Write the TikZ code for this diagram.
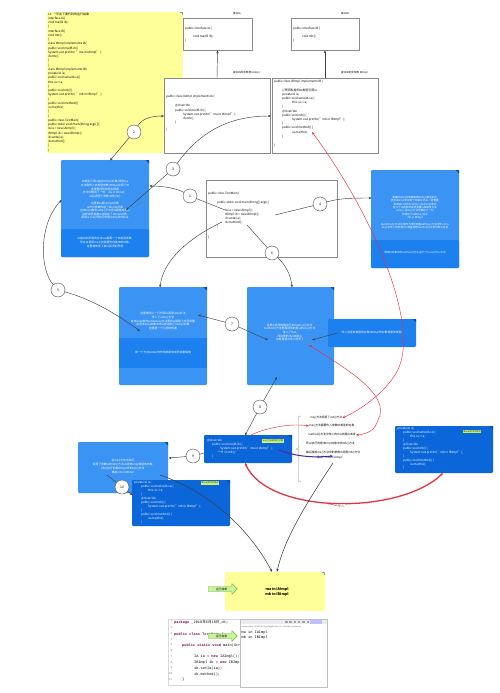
\documentclass[tikz,border=0pt]{standalone}
\usepackage{fontspec}
\setmainfont{Noto Sans CJK SC}
\newfontfamily\codemono{Liberation Mono}
\usetikzlibrary{arrows.meta,shapes.arrows}
\definecolor{noteyellow}{HTML}{FFFF99}
\definecolor{frameink}{HTML}{8A8A8A}
\definecolor{lblue}{HTML}{3B93F3}
\definecolor{mblue}{HTML}{1C80EE}
\definecolor{dblue}{HTML}{0B66D9}
\definecolor{earblue}{HTML}{0A4FA8}
\definecolor{tipgreen}{HTML}{C8F56A}
\definecolor{linered}{HTML}{E5333F}
\definecolor{linepurple}{HTML}{4A2A9E}
\definecolor{arrowgreen}{HTML}{C9F29B}
\definecolor{arrowedge}{HTML}{6DB33F}
\definecolor{kwpurple}{HTML}{7F0055}
\begin{document}
\begin{tikzpicture}[x=1pt,y=-1pt,>={Stealth[length=3pt,width=2.4pt]},line cap=round,line join=round,
  code/.style={anchor=north west,inner sep=0pt,align=left,font=\fontsize{3}{4.2}\selectfont},
  codeline/.style={anchor=west,inner sep=0pt,font=\fontsize{3}{4.2}\selectfont},
  caption/.style={inner sep=0pt,font=\fontsize{2.6}{3}\selectfont},
  memo/.style={inner sep=0pt,align=center,text=white,font=\fontsize{2.8}{3.6}\selectfont},
  remark/.style={anchor=west,inner sep=0pt,font=\fontsize{2.8}{3.4}\selectfont},
  tag/.style={fill=tipgreen,inner sep=0.6pt,font=\fontsize{2.2}{2.4}\selectfont,text=black!80},
  num/.style={circle,draw=black!70,fill=white,line width=0.4pt,minimum size=14pt,inner sep=0pt,font=\fontsize{3.4}{3.4}\selectfont},
  frame/.style={rectangle,draw=frameink,line width=0.7pt,fill=white,inner sep=0pt},
  card/.style={rectangle,rounded corners=1.2pt,inner sep=0pt,fill=lblue},
  link/.style={black!75,line width=0.45pt},
  thinred/.style={linered,line width=0.45pt},
  mono/.style={anchor=north west,inner sep=0pt,align=left,font=\codemono\fontsize{3.6}{5.73}\selectfont},
  outarrow/.style={shape=single arrow,fill=arrowgreen,draw=arrowedge,line width=0.4pt,single arrow head extend=3pt,minimum height=29pt,inner sep=1pt,font=\fontsize{2.8}{3}\selectfont}]
\path[use as bounding box] (0,0) rectangle (500,693);
\fill[white] (0,0) rectangle (500,693);
% 题目
\node[fill=noteyellow,inner sep=0pt,minimum width=136pt,minimum height=141pt] (tasknote) at (115,82.5) {};
\draw[black!40,line width=0.3pt] (180,12.6) -- (182.4,12.6) -- (182.4,15);
\node[code,font=\fontsize{3}{4.25}\selectfont] (task) at (48,12.4) {13. **写出下面代码的运行结果\\interface IA\{\\void ma(IB ib);\\\}\\interface IB\{\\void mb();\\\}\\class IAImpl implements IA\{\\public void ma(IB ib)\{\\System.out.println( "ma in IAImpl" );\\ib.mb();\\\}\\\}\\class IBImpl implements IB\{\\private IA ia;\\public void setIa(IA ia)\{\\this.ia = ia;\\\}\\public void mb()\{\\System.out.println( "mb in IBImpl" );\\\}\\public void method()\{\\ia.ma(this);\\\}\\\}\\public class TestMain\{\\public static void main(String args[])\{\\IA ia = new IAImpl();\\IBImpl ib = new IBImpl();\\ib.setIa(ia);\\ib.method();\\\}\\\}};
% 接口与实现类
\node[frame,minimum width=69pt,minimum height=32pt] (ia) at (217.5,34) {};
\node[frame,minimum width=68pt,minimum height=32pt] (ib) at (325,34) {};
\node[caption] (ialabel) at (237,14) {接口IA};
\node[caption] (iblabel) at (345,14) {接口IB};
\node[code] (iatxt) at (185,26.5) {public interface IA \{\\ \\\hspace*{8pt}void ma(IB ib);\\\}};
\node[code] (ibtxt) at (293,26.5) {public interface IB \{\\ \\\hspace*{9pt}void mb();\\\}};
\node[frame,minimum width=106pt,minimum height=75pt] (iaimpl) at (217,115.5) {};
\node[frame,minimum width=106pt,minimum height=75pt] (ibimpl) at (325,115.5) {};
\draw[link,->] (iaimpl.north) -- (ia.south);
\draw[link,->] (ibimpl.north) -- (ib.south);
\node[caption,anchor=west] (iaimpllabel) at (233,73) {接口IA的实现类 IAImpl};
\node[caption,anchor=west] (ibimpllabel) at (341,73) {接口IB的实现类 IBImpl};
\node[codeline] (iahead) at (166,97) {public class IAImpl implements IA \{};
\node[code] (iabody) at (175,104.3) {@Override\\public void ma(IB ib) \{\\\hspace*{8pt}System.out.println("ma in IAImpl");\\\hspace*{8pt}ib.mb();\\\}};
\node[codeline] (iaend) at (166,130) {\}};
\node[codeline] (ibhead) at (274,82) {public class IBImpl implements IB \{};
\node[code] (ibbody) at (282,88.3) {//声明私有的IA类型引用ia\\private IA ia;\\public void setIa(IA ia) \{\\\hspace*{10pt}this.ia = ia;\\\}\\@Override\\public void mb() \{\\\hspace*{10pt}System.out.println("mb in IBImpl");\\\}\\public void method() \{\\\hspace*{10pt}ia.ma(this);\\\}};
\node[codeline] (ibend) at (274,146) {\}};
% 测试类
\node[frame,minimum width=131pt,minimum height=77pt] (testmain) at (271.5,218.5) {};
\node[codeline] (tmhead) at (208,193.3) {public class TestMain \{};
\node[code,font=\fontsize{3}{4}\selectfont] (tmbody) at (217,201) {public static void main(String[] args) \{\\ \\\hspace*{8pt}IA ia = new IAImpl();\\\hspace*{8pt}IBImpl ib = new IBImpl();\\\hspace*{8pt}ib.setIa(ia);\\\hspace*{8pt}ib.method();\\\}};
\node[codeline] (tmend) at (208,237.7) {\}};
% 说明卡片
\node[card,minimum width=88pt,minimum height=97pt] (boxa) at (105,208.5) {};
\fill[mblue,rounded corners=1.2pt] (61,229) rectangle (149,257);
\fill[earblue] (145.5,160) -- (149,160) -- (149,163.5) -- cycle;
\node[memo] (atext) at (105,200) {IA类型引用ia指向IAImpl对象,调用ma\\方法需传入IB类型参数,IBImpl实现了IB\\这里要调用的是实现类\\方法中输出了一句"ma in IAImpl"\\并且调用了参数ib的mb()\\ \\这里的ia是IAImpl对象\\ia作为参数传给了IBImpl对象\\在IBImpl类中setIa()方法把ia赋给成员ia\\这样成员变量ia也指向了IAImpl对象,\\调用ia.ma()时执行的是IAImpl中的ma};
\node[memo] (aband) at (105,242.5) {IA接口中声明的方法ma需要一个IB类型参数,\\所以在调用ma之前需要先创建IB的对象,\\这里就体现了接口回调的思想};
\node[card,minimum width=88pt,minimum height=98pt] (boxb) at (163,336) {};
\fill[mblue] (119,338) rectangle (207,368);
\fill[earblue] (203.5,287) -- (207,287) -- (207,290.5) -- cycle;
\node[memo,font=\fontsize{2.8}{3.9}\selectfont] (btext) at (163,321) {这里使用上一行代码ib调用setIa方法\\传入了setIa()方法\\在IBImpl类的setIa(IA ia)方法里把ia赋给了成员变量\\此时IBImpl对象中的ia就指向了IAImpl对象\\这里是一个引用的传递};
\node[memo] (bband) at (163,353) {第一个方法setIa()的作用就是给成员变量赋值};
\node[card,minimum width=87pt,minimum height=98pt] (boxc) at (290.5,336) {};
\fill[earblue] (330.5,287) -- (334,287) -- (334,290.5) -- cycle;
\node[memo] (ctext) at (290,332.5) {这里ib调用的是自己的method()方法,\\method()方法里面调用的是ia的ma()方法,\\传入了this,\\而这里的this就是ib,\\也就是将ib传入进去了};
\node[card,fill=mblue,minimum width=88pt,minimum height=28pt] (boxd) at (372,333) {};
\fill[earblue] (412.5,319) -- (416,319) -- (416,322.5) -- cycle;
\node[memo] (dtext) at (372,333) {传入的是IB类型的对象(IBImpl的对象就是IB类型)};
\node[card,minimum width=88pt,minimum height=98pt] (boxe) at (415,219) {};
\fill[mblue,rounded corners=1.2pt] (371,240) rectangle (459,268);
\fill[earblue] (455.5,170) -- (459,170) -- (459,173.5) -- cycle;
\node[memo,font=\fontsize{2.6}{3.4}\selectfont] (etext) at (415,212.5) {新建IBImpl对象赋值给IBImpl类型的ib,\\因为IBImpl类实现了IB接口,所以一定要重\\写IB接口中的方法mb(),在IBImpl类中\\定义了IA类型的成员变量ia和成员方法\\setIa(),在mb()方法中输出了一句\\并调用了ia的ma()方法\\"mb in IBImpl"\\[3pt]在method()方法中调用了成员变量ia的ma()方法并传入this\\ma()中传入的参数this就是调用method方法的对象ib本身};
\node[memo,font=\fontsize{2.6}{3.4}\selectfont] (eband) at (415,253) {调用ib对象中的method()方法,执行了ia.ma(this)方法};
% 执行过程
\node[card,fill=dblue,minimum width=88pt,minimum height=28pt] (boxf) at (248,449) {};
\fill[earblue] (288.5,435) -- (292,435) -- (292,438.5) -- cycle;
\node[code,text=white,font=\fontsize{3}{4}\selectfont] (ftext) at (207,439.3) {@Override\\\hspace*{5pt}public void ma(IB ib) \{\\\hspace*{13pt}System.out.println("ma in IAImpl");\\\hspace*{10pt}$\rightarrow$ ib.mb();\\\hspace*{5pt}\}};
\node[tag] (ftag) at (273,441) {ma()方法的执行过程};
\node[card,minimum width=90pt,minimum height=51pt] (boxg) at (123,467.5) {};
\fill[earblue] (164.5,442) -- (168,442) -- (168,445.5) -- cycle;
\node[memo,font=\fontsize{2.8}{4}\selectfont] (gtext) at (123,467) {在ma()方法中执行\\调用了参数ib的mb()方法,ib是IBImpl类型的对象,\\所以执行的是IBImpl中的mb()方法\\输出mb in IBImpl};
\node[card,fill=dblue,minimum width=98pt,minimum height=46pt] (boxh) at (181,503) {};
\fill[earblue] (226.5,480) -- (230,480) -- (230,483.5) -- cycle;
\node[code,text=white,font=\fontsize{3}{4}\selectfont] (htext) at (134,480.8) {private IA ia;\\\hspace*{7pt}public void setIa(IA ia) \{\\\hspace*{14pt}this.ia = ia;\\\hspace*{7pt}\}\\\hspace*{7pt}@Override\\\hspace*{7pt}public void mb() \{\\\hspace*{14pt}System.out.println("mb in IBImpl");\\\hspace*{7pt}\}\\\hspace*{7pt}public void method() \{\\\hspace*{14pt}ia.ma(this);\\\hspace*{7pt}\}};
\node[tag] (htag) at (210,483) {IBImpl类中的成员};
\node[card,fill=dblue,minimum width=98pt,minimum height=47pt] (boxi) at (444,449.5) {};
\fill[earblue] (489.5,426) -- (493,426) -- (493,429.5) -- cycle;
\node[code,text=white,font=\fontsize{3}{3.9}\selectfont] (itext) at (397,427.4) {private IA ia;\\\hspace*{6pt}public void setIa(IA ia) \{\\\hspace*{13pt}this.ia = ia;\\\hspace*{6pt}\}\\\hspace*{6pt}@Override\\\hspace*{6pt}public void mb() \{\\\hspace*{13pt}System.out.println("mb in IBImpl");\\\hspace*{6pt}\}\\\hspace*{6pt}public void method() \{\\\hspace*{13pt}ia.ma(this);\\\hspace*{6pt}\}};
\node[tag] (itag) at (472,431.5) {IBImpl类中的成员};
% 右侧说明
\draw[black!45,line width=0.35pt] (301,416) .. controls (298.5,416) .. (298.5,419) -- (298.5,446.5) .. controls (298.5,449) .. (295.5,449) .. controls (298.5,449) .. (298.5,451.5) -- (298.5,479) .. controls (298.5,482) .. (301,482);
\node[remark] (rem1) at (310,418) {ma()方法调用了mb()方法};
\node[remark] (rem2) at (309,426) {ma()方法需要传入参数IB类型的对象};
\node[remark] (rem3) at (308,435) {method()方法中传入的this就是ib本身};
\node[remark] (rem4) at (306,444) {所以执行的是IBImpl对象中的mb()方法};
\node[remark] (rem5) at (306,453) {最后使用ma()方法中的参数ib调用mb()方法};
\node[remark] (rem6) at (317,457.5) {输出"ma in IAImpl"};
% 编号
\node[num] (c1) at (190,196) {1};
\node[num] (c2) at (134,132) {2};
\node[num] (c3) at (173,169) {3};
\node[num] (c4) at (320,204) {4};
\node[num] (c5) at (58,290) {5};
\node[num] (c6) at (272,253) {6};
\node[num] (c7) at (232,324) {7};
\node[num] (c8) at (260,407) {8};
\node[num] (c9) at (193,456) {9};
\node[num] (c10) at (122,487) {10};
% 连线端点
\coordinate (maline) at (164,116);
\coordinate (mbline) at (271,116);
\coordinate (newia) at (225,210);
\coordinate (newib) at (275,215);
\coordinate (setia) at (222,222);
\coordinate (callm) at (247,225);
\coordinate (thisline) at (312,132);
\coordinate (atxt) at (126,210);
\coordinate (aleft) at (61.5,200);
\coordinate (atop) at (110,160.5);
\coordinate (aright) at (149.5,186);
\coordinate (btop) at (160,287.5);
\coordinate (btxt) at (198,315);
\coordinate (bleft) at (140,331);
\coordinate (ctop) at (292,287.5);
\coordinate (ctxt) at (268,340);
\coordinate (cthis) at (312,340);
\coordinate (cred) at (309,345);
\coordinate (cbot) at (277,377);
\coordinate (dtxt) at (337,333);
\coordinate (eleft) at (371.5,198);
\coordinate (ftop) at (245,435.5);
\coordinate (fleft) at (204,453);
\coordinate (fma) at (250,435.5);
\coordinate (fprint) at (279,450);
\coordinate (fbot) at (245,463);
\coordinate (gright) at (168.5,458);
\coordinate (gtxt) at (107,475);
\coordinate (gout) at (160,475);
\coordinate (hleft) at (132.5,495);
\coordinate (ibot) at (443,473);
\coordinate (remout) at (333,463);
\coordinate (purpletip) at (333,456);
% 灰色连线
\draw[link,->] (c2) .. controls (142,119) and (150,116) .. (maline);
\draw[link,->] (c2) -- (atop);
\draw[link,->] (c1) .. controls (178,189) and (165,186) .. (aright);
\draw[link] (c1) .. controls (205,202) and (215,206) .. (newia);
\draw[link,->] (c3) -- (atxt);
\draw[link,->] (c3) .. controls (198,135) and (225,116) .. (mbline);
\draw[link,->] (setia) .. controls (185,240) and (163,262) .. (btop);
\draw[link] (newib) -- (c4);
\draw[link,->] (c4) .. controls (340,198) and (355,198) .. (eleft);
\draw[link] (callm) -- (c6);
\draw[link,->] (c6) .. controls (285,264) and (291,275) .. (ctop);
\draw[link,->] (c5) .. controls (40,270) and (38,225) .. (aleft);
\draw[link,->] (c5) .. controls (95,300) and (122,318) .. (bleft);
\draw[link,->] (c7) -- (btxt);
\draw[link,->] (c7) -- (ctxt);
\draw[link,->] (dtxt) -- (cthis);
\draw[link,->] (c8) -- (cbot);
\draw[link,->] (c8) -- (ftop);
\draw[link] (c9) -- (fleft);
\draw[link,->] (c9) -- (gright);
\draw[link] (c10) -- (gtxt);
\draw[link,->] (c10) -- (hleft);
% 红色与紫色连线
\draw[thinred,<->] (thisline) .. controls (370,210) and (425,330) .. (395,375) .. controls (382,395) and (360,410) .. (rem1.east);
\draw[thinred,<->] (cred) .. controls (345,368) and (392,395) .. (378,420) .. controls (375,430) and (368,434) .. (rem3.east);
\draw[thinred,->] (fma) .. controls (265,428) and (290,423) .. (rem2.west);
\draw[linepurple,line width=1pt,->] (fprint) .. controls (295,456) and (310,458) .. (purpletip);
\draw[linered,line width=1.3pt,<->] (fbot) .. controls (268,515) and (400,515) .. (ibot);
\node[text=linered,fill=white,inner sep=0.3pt,font=\fontsize{3.4}{3.4}\selectfont] (passin) at (341,506) {传入};
\coordinate (passtip) at (327,503);
\draw[thinred,->] (passin.west) -- (passtip);
% 输出结果
\node[fill=noteyellow,inner sep=0pt,minimum width=100pt,minimum height=39pt] (result) at (275,591.5) {};
\draw[black!40,line width=0.3pt] (322,572.6) -- (324.4,572.6) -- (324.4,575);
\node[inner sep=0pt,align=center,font=\bfseries\fontsize{3.6}{5}\selectfont] (restext) at (277,591.5) {ma in IAImpl\\mb in IBImpl};
\draw[link,line width=0.55pt,->] (gout) .. controls (210,492) and (250,530) .. ([xshift=-3pt]result.north);
\draw[link,line width=0.55pt,->] (remout) .. controls (305,505) and (284,540) .. ([xshift=2pt]result.north);
\node[outarrow] (outmark) at (221.5,589) {运行结果};
% 运行截图
\node[draw=black!15,fill=white,inner sep=0pt,minimum width=90pt,minimum height=66pt] (editor) at (213,652) {};
\node[mono,text=black!45,align=right,font=\codemono\fontsize{3}{5.73}\selectfont] (lineno) at (168.5,620.8) {1\\2\\3\\4\\5\\6\\7\\8\\9\\10\\11};
\node[mono] (src) at (174,620.3) {\textcolor{kwpurple}{\textbf{package}} \_2018{\rmfamily 年}5{\rmfamily 月}18{\rmfamily 日}\_d1;\\ \\\textcolor{kwpurple}{\textbf{public class}} TestMain \{\\ \\\hspace*{8pt}\textcolor{kwpurple}{\textbf{public static void}} main(String[] args) \{\\ \\\hspace*{20pt}IA ia = \textcolor{kwpurple}{\textbf{new}} IAImpl();\\\hspace*{20pt}IBImpl ib = \textcolor{kwpurple}{\textbf{new}} IBImpl();\\\hspace*{20pt}ib.setIa(ia);\\\hspace*{20pt}ib.method();\\\hspace*{8pt}\}};
\node[draw=black!25,fill=white,inner sep=0pt,minimum width=87pt,minimum height=68pt] (console) at (283.5,653) {};
\fill[black!8] (240.5,619.5) rectangle (326.5,624);
\foreach \k in {0,...,8} {\fill[black!35] (285+\k*4.3,620.5) rectangle (287.5+\k*4.3,623);}
\fill[blue!25] (310,619.8) rectangle (322,623.7);
\node[anchor=west,inner sep=0pt,text=black!60,font=\fontsize{2}{2.4}\selectfont] (contitle) at (241,627) {<terminated> TestMain [Java Application] C:\textbackslash Java\textbackslash bin\textbackslash javaw.exe};
\node[mono,font=\codemono\fontsize{3.6}{5}\selectfont] (conout) at (241.5,631) {ma in IAImpl\\mb in IBImpl};
\node[outarrow] (runmark) at (221.5,636) {运行结果};
\end{tikzpicture}
\end{document}
